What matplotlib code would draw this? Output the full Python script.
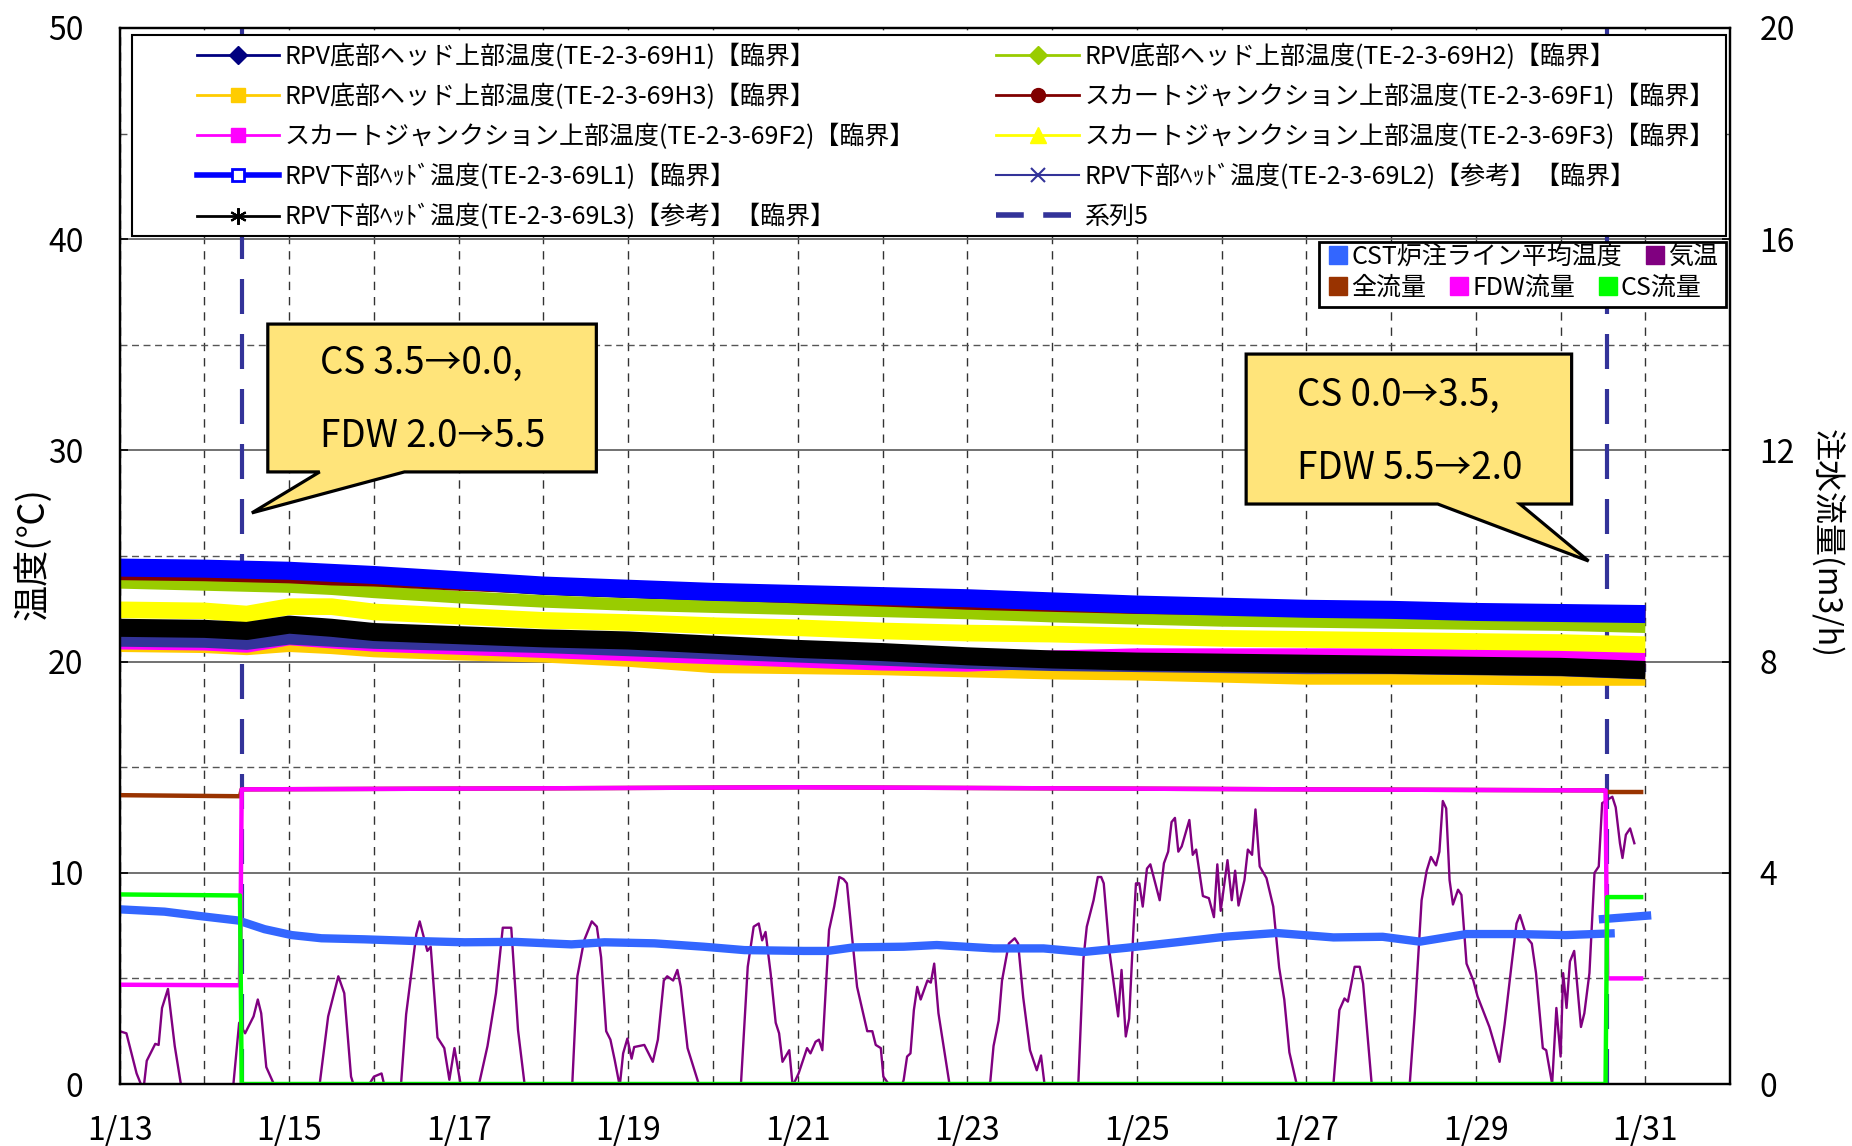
import matplotlib
matplotlib.use('Agg')
import matplotlib.pyplot as plt
from matplotlib.lines import Line2D
from matplotlib.patches import Polygon, Rectangle
from matplotlib.ticker import MultipleLocator

plt.rcParams['font.family'] = ['Noto Sans CJK JP', 'DejaVu Sans']

# x は 1/13 0:00 からの経過日数
x_tick_pos = [0, 2, 4, 6, 8, 10, 12, 14, 16, 18]
x_tick_labels = ['1/13', '1/15', '1/17', '1/19', '1/21', '1/23', '1/25', '1/27', '1/29', '1/31']

# RPV 温度 (℃)
t_temp = [0, 1, 1.5, 2, 2.5, 3, 4, 5, 6, 7, 8, 9, 10, 11, 12, 13, 14, 15, 16, 17, 18]
temp_H1 = [24.3, 24.25, 24.2, 24.15, 24.05, 23.95, 23.7, 23.45, 23.3, 23.15, 23.05, 22.95, 22.85, 22.7, 22.55, 22.45, 22.35, 22.3, 22.2, 22.15, 22.1]
temp_H2 = [23.75, 23.65, 23.6, 23.55, 23.45, 23.3, 23.05, 22.85, 22.7, 22.6, 22.5, 22.4, 22.3, 22.15, 22.05, 21.95, 21.9, 21.85, 21.8, 21.75, 21.65]
temp_H3 = [20.75, 20.7, 20.6, 20.75, 20.65, 20.5, 20.35, 20.25, 20.05, 19.75, 19.7, 19.65, 19.55, 19.45, 19.4, 19.3, 19.2, 19.2, 19.2, 19.15, 19.15]
temp_F1 = [24.15, 24.1, 24.05, 24.0, 23.9, 23.85, 23.65, 23.5, 23.35, 23.2, 23.05, 22.9, 22.75, 22.65, 22.55, 22.5, 22.45, 22.35, 22.3, 22.25, 22.2]
temp_F2 = [21.0, 20.95, 20.85, 21.2, 21.05, 20.9, 20.75, 20.6, 20.45, 20.3, 20.15, 20.0, 19.95, 20.1, 20.2, 20.2, 20.2, 20.2, 20.15, 20.15, 20.1]
temp_F3 = [22.45, 22.4, 22.25, 22.6, 22.6, 22.35, 22.15, 21.95, 21.85, 21.7, 21.6, 21.45, 21.35, 21.3, 21.2, 21.1, 21.05, 21.0, 20.95, 20.9, 20.8]
temp_L1 = [24.45, 24.4, 24.35, 24.3, 24.2, 24.1, 23.85, 23.6, 23.45, 23.3, 23.2, 23.1, 23.0, 22.85, 22.7, 22.6, 22.5, 22.45, 22.35, 22.3, 22.25]
temp_L2 = [21.0, 20.95, 20.85, 21.1, 21.0, 20.9, 20.8, 20.7, 20.55, 20.4, 20.25, 20.1, 19.95, 19.85, 19.8, 19.75, 19.7, 19.7, 19.65, 19.6, 19.45]
temp_L3 = [21.6, 21.55, 21.45, 21.75, 21.6, 21.4, 21.25, 21.1, 21.0, 20.8, 20.6, 20.45, 20.25, 20.1, 20.0, 19.95, 19.9, 19.85, 19.8, 19.75, 19.6]

# 注水量切替 (系列5)
t_switch = [1.44, 17.55]

# CST炉注ライン平均温度 (℃)
t_cst = [0, 0.53, 0.93, 1.4, 1.71, 2.03, 2.38, 2.89, 3.48, 4.07, 4.66, 5.33, 5.72, 6.31, 6.89, 7.37, 8.07,
         8.35, 8.66, 9.25, 9.64, 10.31, 10.9, 11.37, 11.88, 12.47, 13.06, 13.65, 14.32, 14.9, 15.34, 15.89,
         16.48, 17.06, 17.59]
cst = [8.27, 8.16, 7.96, 7.74, 7.33, 7.05, 6.9, 6.85, 6.77, 6.71, 6.73, 6.61, 6.71, 6.66, 6.5, 6.34, 6.3,
       6.3, 6.47, 6.5, 6.58, 6.42, 6.42, 6.25, 6.45, 6.71, 6.98, 7.15, 6.94, 6.97, 6.74, 7.1,
       7.1, 7.05, 7.13]
t_cst2 = [17.5, 18.02]
cst2 = [7.81, 7.97]

# 気温 (℃)
t_air = [0.0, 0.08, 0.2, 0.28, 0.32, 0.42, 0.46, 0.5, 0.57, 0.65, 0.73, 0.85, 1.2, 1.34, 1.41, 1.48, 1.58,
         1.63, 1.67, 1.73, 1.83, 2.0, 2.25, 2.36, 2.46, 2.58, 2.65, 2.73, 2.78, 2.9, 3.0, 3.09, 3.13, 3.2,
         3.32, 3.38, 3.5, 3.54, 3.63, 3.67, 3.75, 3.83, 3.89, 3.95, 4.03, 4.1, 4.2, 4.24, 4.34, 4.44, 4.52,
         4.62, 4.7, 4.78, 4.9, 5.25, 5.34, 5.4, 5.48, 5.57, 5.63, 5.68, 5.74, 5.79, 5.84, 5.9, 5.94, 5.99,
         6.04, 6.07, 6.19, 6.29, 6.35, 6.42, 6.46, 6.53, 6.58, 6.62, 6.7, 6.84, 7.0, 7.25, 7.33, 7.41, 7.48,
         7.54, 7.58, 7.62, 7.68, 7.74, 7.78, 7.82, 7.9, 7.94, 8.01, 8.11, 8.15, 8.21, 8.25, 8.29, 8.37, 8.43,
         8.49, 8.54, 8.58, 8.64, 8.7, 8.82, 8.88, 8.92, 8.98, 9.01, 9.09, 9.21, 9.25, 9.29, 9.33, 9.37, 9.41,
         9.45, 9.53, 9.57, 9.61, 9.66, 9.74, 9.79, 9.9, 10.1, 10.15, 10.27, 10.31, 10.37, 10.41, 10.49, 10.56,
         10.6, 10.66, 10.74, 10.82, 10.87, 10.92, 11.1, 11.25, 11.31, 11.37, 11.41, 11.49, 11.54, 11.58, 11.61,
         11.68, 11.78, 11.82, 11.87, 11.91, 11.96, 11.99, 12.03, 12.07, 12.12, 12.16, 12.27, 12.32, 12.37,
         12.41, 12.45, 12.49, 12.53, 12.62, 12.66, 12.7, 12.78, 12.85, 12.91, 12.95, 12.99, 13.07, 13.12,
         13.16, 13.2, 13.27, 13.31, 13.36, 13.4, 13.45, 13.53, 13.61, 13.68, 13.74, 13.8, 13.88, 13.95, 14.1,
         14.25, 14.32, 14.39, 14.45, 14.49, 14.57, 14.63, 14.67, 14.77, 14.9, 15.15, 15.22, 15.28, 15.36,
         15.42, 15.47, 15.53, 15.57, 15.61, 15.65, 15.69, 15.73, 15.79, 15.83, 15.89, 15.97, 16.02, 16.16,
         16.28, 16.34, 16.42, 16.48, 16.52, 16.57, 16.61, 16.66, 16.71, 16.79, 16.83, 16.9, 16.95, 17.0,
         17.03, 17.07, 17.11, 17.16, 17.24, 17.28, 17.34, 17.4, 17.45, 17.49, 17.55, 17.61, 17.65, 17.7,
         17.73, 17.77, 17.82, 17.87]
air = [2.5, 2.4, 0.5, -0.3, 1.1, 1.9, 1.85, 3.6, 4.5, 1.8, -0.2, -2.0, -2.0, -0.1, 2.9, 2.4, 3.2,
       4.0, 3.35, 0.8, -0.1, -1.5, -1.5, 0.0, 3.2, 5.1, 4.3, 0.35, -0.3, -0.3, 0.35, 0.5, -0.2, -1.0,
       0.0, 3.3, 7.1, 7.7, 6.3, 6.5, 2.2, 1.7, 0.2, 1.7, -0.2, -1.5, -1.0, 0.0, 1.8, 4.3, 7.4,
       7.4, 2.55, -0.1, -2.5, -2.0, 0.0, 5.1, 6.8, 7.7, 7.45, 6.0, 2.5, 2.1, 1.15, -0.1, 1.45, 2.15,
       1.2, 1.75, 1.85, 1.05, 2.1, 4.9, 5.1, 4.9, 5.4, 4.6, 1.7, -0.1, -2.0, -2.0, 0.0, 5.55, 7.45,
       7.6, 6.8, 7.2, 5.25, 2.9, 2.4, 1.05, 1.6, -0.1, 0.5, 1.7, 1.45, 2.0, 2.1, 1.6, 7.3, 8.4,
       9.8, 9.7, 9.5, 7.0, 4.6, 2.5, 2.5, 1.85, 1.7, 0.35, -0.1, -0.3, 0.2, 1.3, 1.45, 3.5, 4.6,
       4.0, 4.9, 4.8, 5.7, 3.35, 1.3, 0.0, -2.0, -1.5, 0.0, 0.05, 1.8, 3.0, 4.9, 6.65, 6.9,
       6.65, 4.1, 1.6, 0.65, 1.35, -0.3, -2.5, -2.0, 0.0, 5.9, 7.45, 8.7, 9.8, 9.8, 9.5,
       6.2, 3.2, 5.4, 2.25, 3.1, 7.3, 9.5, 9.5, 8.4, 10.2, 10.4, 8.7, 10.45, 11.0,
       12.4, 12.6, 11.0, 11.25, 12.5, 10.85, 11.1, 8.9, 8.8, 7.9, 10.4, 8.2, 10.6, 8.7,
       10.1, 8.45, 9.65, 11.1, 10.85, 13.0, 10.3, 9.75, 8.4, 5.5, 4.0, 1.5, 0.1, -0.5, -2.5,
       -2.0, 0.0, 3.5, 4.05, 3.9, 5.55, 5.55, 4.75, 0.05, -2.5, -2.0, 0.0, 3.35, 8.7,
       10.1, 10.75, 10.35, 11.0, 13.4, 13.05, 9.65, 8.5, 9.2, 8.95, 5.7, 4.9, 4.15, 2.7,
       1.05, 2.85, 5.6, 7.6, 8.0, 7.35, 6.9, 6.65, 5.25, 1.7, 1.6, 0.0, 3.6, 1.3,
       5.25, 3.6, 5.8, 6.3, 2.7, 3.35, 5.25, 10.0, 10.3, 13.3, 13.45, 13.6, 13.1, 11.4,
       10.7, 11.8, 12.1, 11.4]

# 注水流量 (m3/h)
t_total = [0, 1.42, 1.44, 5, 8, 11, 14, 17.5, 17.55, 17.95]
flow_total = [5.47, 5.45, 5.58, 5.6, 5.62, 5.6, 5.58, 5.56, 5.53, 5.53]
t_fdw = [0, 1.42, 1.44, 5, 8, 11, 14, 17.53, 17.55, 17.95]
flow_fdw = [1.88, 1.87, 5.58, 5.6, 5.62, 5.6, 5.58, 5.56, 2.0, 2.0]
t_cs = [0, 1.42, 1.44, 17.53, 17.55, 17.95]
flow_cs = [3.59, 3.57, 0, 0, 3.54, 3.54]

labels = {
    'H1': 'RPV底部ヘッド上部温度(TE-2-3-69H1)【臨界】',
    'H2': 'RPV底部ヘッド上部温度(TE-2-3-69H2)【臨界】',
    'H3': 'RPV底部ヘッド上部温度(TE-2-3-69H3)【臨界】',
    'F1': 'スカートジャンクション上部温度(TE-2-3-69F1)【臨界】',
    'F2': 'スカートジャンクション上部温度(TE-2-3-69F2)【臨界】',
    'F3': 'スカートジャンクション上部温度(TE-2-3-69F3)【臨界】',
    'L1': 'RPV下部ﾍｯﾄﾞ温度(TE-2-3-69L1)【臨界】',
    'L2': 'RPV下部ﾍｯﾄﾞ温度(TE-2-3-69L2)【参考】【臨界】',
    'L3': 'RPV下部ﾍｯﾄﾞ温度(TE-2-3-69L3)【参考】【臨界】',
}

fig = plt.figure(figsize=(18.52, 11.46), dpi=100)
ax1 = fig.add_axes([0.0646, 0.0541, 0.8696, 0.9215])
ax2 = ax1.twinx()

# grid
ax1.set_axisbelow(True)
ax1.xaxis.set_minor_locator(MultipleLocator(1))
ax1.yaxis.set_minor_locator(MultipleLocator(5))
ax1.grid(which='both', axis='x', color='#333333', linestyle=(0, (6, 5)), linewidth=1)
ax1.grid(which='major', axis='y', color='#666666', linestyle='-', linewidth=1.3)
ax1.grid(which='minor', axis='y', color='#555555', linestyle=(0, (5, 3.3)), linewidth=1)

for t in t_switch:
    ax1.axvline(t, color='#333399', linewidth=3, linestyle=(0, (8.4, 4.8)))

# (series, color, band width in pt)
bands = [('H1', temp_H1, '#000080', 9), ('H2', temp_H2, '#99CC00', 9), ('H3', temp_H3, '#FFCC00', 9),
         ('F1', temp_F1, '#800000', 9), ('F2', temp_F2, '#FF00FF', 13), ('F3', temp_F3, '#FFFF00', 12),
         ('L1', temp_L1, '#0000FF', 13), ('L2', temp_L2, '#333399', 9), ('L3', temp_L3, 'black', 13)]
for key, vals, c, w in bands:
    ax1.plot(t_temp, vals, color=c, linewidth=w, solid_capstyle='butt')

ax1.plot(t_air, air, color='#800080', linewidth=1.7)
ax1.plot(t_cst, cst, color='#3366FF', linewidth=6)
ax1.plot(t_cst2, cst2, color='#3366FF', linewidth=6)

ax2.plot(t_total, flow_total, color='#993300', linewidth=3.2)
ax2.plot(t_fdw, flow_fdw, color='#FF00FF', linewidth=3.2)
ax2.plot(t_cs, flow_cs, color='#00FF00', linewidth=3.2)

# callouts
box1 = [(1.748, 35.98), (5.624, 35.98), (5.624, 28.98), (3.36, 28.98), (1.56, 27.04), (2.36, 28.98), (1.748, 28.98)]
box2 = [(13.29, 34.56), (17.13, 34.56), (17.13, 27.46), (16.52, 27.46), (17.33, 24.76), (15.55, 27.46), (13.29, 27.46)]
for pts in (box1, box2):
    ax1.add_patch(Polygon(pts, closed=True, facecolor='#FFE47A', edgecolor='black', linewidth=2.3, zorder=4))
ax1.text(2.36, 34.14, 'CS 3.5→0.0,', fontsize=26.5, va='center', ha='left', zorder=5)
ax1.text(2.36, 30.68, 'FDW 2.0→5.5', fontsize=26.5, va='center', ha='left', zorder=5)
ax1.text(13.89, 32.58, 'CS 0.0→3.5,', fontsize=26.5, va='center', ha='left', zorder=5)
ax1.text(13.89, 29.12, 'FDW 5.5→2.0', fontsize=26.5, va='center', ha='left', zorder=5)

# axes
ax1.set_xlim(0, 19)
ax1.set_ylim(0, 50)
ax2.set_ylim(0, 20)
ax1.set_xticks(x_tick_pos)
ax1.set_xticklabels(x_tick_labels)
ax1.set_yticks(range(0, 51, 10))
ax2.set_yticks(range(0, 21, 4))
ax1.tick_params(axis='x', which='both', length=0, labelsize=23, pad=22)
ax1.tick_params(axis='y', which='major', direction='in', length=6, width=1.2, labelsize=23, pad=26)
ax1.tick_params(axis='y', which='minor', length=0)
ax2.tick_params(axis='y', direction='in', length=6, width=1.2, labelsize=23, pad=21)
for ax in (ax1, ax2):
    for s in ax.spines.values():
        s.set_linewidth(1.6)
        s.set_color('black')

ax1.set_ylabel('温度(℃)', fontsize=26, va='center', ha='center')
ax1.yaxis.set_label_coords(-0.054, 0.502)
ax2.set_ylabel('注水流量(m3/h)', fontsize=23, rotation=270, va='center', ha='center')
ax2.yaxis.set_label_coords(1.06, 0.512)

# legend 1
h = {
    'H1': Line2D([], [], color='#000080', lw=2, marker='D', ms=9),
    'H2': Line2D([], [], color='#99CC00', lw=2, marker='D', ms=9),
    'H3': Line2D([], [], color='#FFCC00', lw=2, marker='s', ms=10),
    'F1': Line2D([], [], color='#800000', lw=2, marker='o', ms=10),
    'F2': Line2D([], [], color='#FF00FF', lw=2, marker='s', ms=10),
    'F3': Line2D([], [], color='#FFFF00', lw=2, marker='^', ms=11),
    'L1': Line2D([], [], color='#0000FF', lw=4, marker='s', ms=8, mfc='white', mec='#0000FF', mew=2),
    'L2': Line2D([], [], color='#333399', lw=1.5, marker='x', ms=10, mew=1.5),
    'L3': Line2D([], [], color='black', lw=2, marker=(6, 2, 0), ms=12, mew=1.5),
}
s5 = Line2D([], [], color='#333399', lw=4, linestyle=(0, (5, 3.5)))
order = ['H1', 'H3', 'F2', 'L1', 'L3', 'H2', 'F1', 'F3', 'L2']
handles = [h[k] for k in order] + [s5]
leg_labels = [labels[k] for k in order] + ['系列5']

ax2.add_patch(Rectangle((0.0077, 0.803), 0.9898, 0.1904, transform=ax2.transAxes, facecolor='white',
                        edgecolor='black', linewidth=1.5, zorder=4.5))
leg1 = ax2.legend(handles, leg_labels, ncol=2, loc='upper left',
                  bbox_to_anchor=(0.0479, 0.9853), frameon=False, fontsize=18,
                  borderpad=0, borderaxespad=0, handlelength=3.3, handletextpad=0.22,
                  labelspacing=0.55, columnspacing=3.25)
ax2.add_artist(leg1)

# legend 2
ax2.add_patch(Rectangle((0.7448, 0.7361), 0.2527, 0.0615, transform=ax2.transAxes, facecolor='white',
                        edgecolor='black', linewidth=2, zorder=4.5))
sq = lambda c: Line2D([], [], linestyle='none', marker='s', ms=13, mfc=c, mec=c)
leg2 = ax2.legend([sq('#3366FF'), sq('#800080')], ['CST炉注ライン平均温度', '気温'], ncol=2,
                  loc='center left', bbox_to_anchor=(0.7504, 0.7831), frameon=False, fontsize=18,
                  borderpad=0, borderaxespad=0, handlelength=0.8, handletextpad=0.13, columnspacing=0.9)
ax2.add_artist(leg2)
ax2.legend([sq('#993300'), sq('#FF00FF'), sq('#00FF00')], ['全流量', 'FDW流量', 'CS流量'], ncol=3,
           loc='center left', bbox_to_anchor=(0.7504, 0.7538), frameon=False, fontsize=18,
           borderpad=0, borderaxespad=0, handlelength=0.8, handletextpad=0.13, columnspacing=0.9)

fig.savefig('out.png', dpi=100)
